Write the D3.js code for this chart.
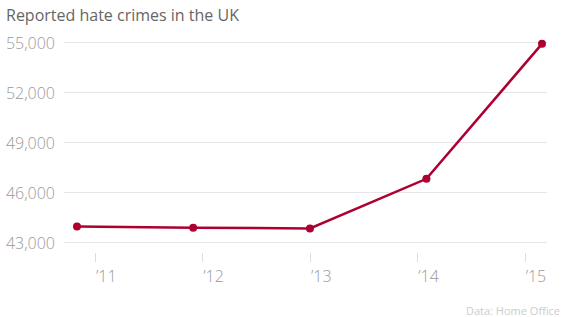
<!DOCTYPE html>
<html>
<head>
<meta charset="utf-8">
<script src="https://cdn.jsdelivr.net/npm/d3@7"></script>
<style>
  body { margin: 0; background: #fff; }
  svg { display: block; font-family: "Open Sans", sans-serif; }
</style>
</head>
<body>
<svg id="chart" width="564" height="317"></svg>
<script>
// données
var dates = ["2010-11-01", "2011-12-01", "2013-01-01", "2014-02-01", "2015-03-01"];
var crimes = [43960, 43890, 43840, 46820, 54920];
var yTicks = [43000, 46000, 49000, 52000, 55000];
var xTicks = ["2011-01-01", "2012-01-01", "2013-01-01", "2014-01-01", "2015-01-01"];

var parse = d3.timeParse("%Y-%m-%d");
var data = dates.map(function (d, i) { return { date: parse(d), value: crimes[i] }; });

var svg = d3.select("#chart");

var x = d3.scaleTime()
  .domain(d3.extent(data, d => d.date))
  .range([77, 542]);

var y = d3.scaleLinear()
  .domain([43000, 55000])
  .range([242.5, 42.5]);

// titre
svg.append("text")
  .attr("x", 6)
  .attr("y", 21)
  .style("font-size", "16px")
  .style("fill", "#666")
  .text("Reported hate crimes in the UK");

// grille + étiquettes de l'axe y
var grid = svg.append("g");
grid.selectAll("line")
  .data(yTicks)
  .enter().append("line")
  .attr("x1", 64).attr("x2", 547)
  .attr("y1", d => y(d)).attr("y2", d => y(d))
  .style("stroke", "#e6e6e6")
  .style("stroke-width", 1);

grid.selectAll("text")
  .data(yTicks)
  .enter().append("text")
  .attr("x", 55)
  .attr("y", d => y(d) + 6)
  .style("text-anchor", "end")
  .style("font-size", "16px")
  .style("font-weight", 300)
  .style("fill", "#999")
  .text(d => d3.format(",")(d));

// axe x : petits traits + étiquettes
var xg = svg.append("g");
xg.selectAll("line")
  .data(xTicks)
  .enter().append("line")
  .attr("x1", d => Math.round(x(parse(d))) + 0.5)
  .attr("x2", d => Math.round(x(parse(d))) + 0.5)
  .attr("y1", 253).attr("y2", 262)
  .style("stroke", "#ddd");

xg.selectAll("text")
  .data(xTicks)
  .enter().append("text")
  .attr("x", d => x(parse(d)) + 1)
  .attr("y", 282)
  .style("font-size", "16px")
  .style("font-weight", 300)
  .style("fill", "#999")
  .text(d => "\u2019" + d3.timeFormat("%y")(parse(d)));

// ligne
var line = d3.line()
  .x(d => x(d.date))
  .y(d => y(d.value));

svg.append("path")
  .datum(data)
  .attr("d", line)
  .style("fill", "none")
  .style("stroke", "#ad0030")
  .style("stroke-width", 2.5);

svg.selectAll("circle")
  .data(data)
  .enter().append("circle")
  .attr("cx", d => x(d.date))
  .attr("cy", d => y(d.value))
  .attr("r", 4)
  .style("fill", "#ad0030");

// source
svg.append("text")
  .attr("x", 560)
  .attr("y", 315)
  .style("text-anchor", "end")
  .style("font-size", "11px")
  .style("fill", "#ccc")
  .text("Data: Home Office");
</script>
</body>
</html>
